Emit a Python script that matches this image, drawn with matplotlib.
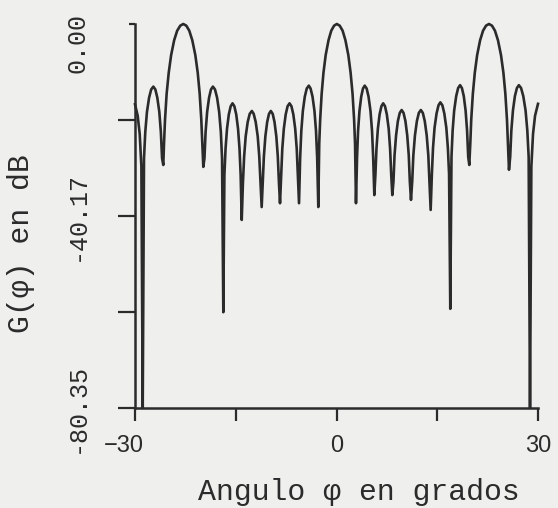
import matplotlib
matplotlib.use("Agg")
import matplotlib.pyplot as plt
from matplotlib.transforms import ScaledTranslation

# pattern, lobe by lobe (angle in degrees, gain in dB)
phi_deg = [
    -30.00, -29.60, -29.30, -29.05,
    -28.85,
    -28.66, -28.47, -28.22, -27.90, -27.59, -27.27, -26.97, -26.68, -26.38, -26.15, -25.97,
    -25.79,
    -25.68, -25.53, -25.29, -24.98, -24.62, -24.17, -23.72, -23.26, -22.81,
    -22.36, -21.92, -21.47, -21.02, -20.66, -20.37, -20.13, -19.98,
    -19.83,
    -19.66, -19.49, -19.26, -18.97, -18.69, -18.40, -18.09, -17.78, -17.47, -17.22, -17.04,
    -16.85,
    -16.69, -16.52, -16.30, -16.03, -15.75, -15.48, -15.21, -14.93, -14.66, -14.44, -14.27,
    -14.11,
    -13.93, -13.75, -13.52, -13.22, -12.92, -12.60, -12.33, -12.03, -11.73, -11.50, -11.32,
    -11.14,
    -10.98, -10.81, -10.59, -10.32, -10.05, -9.78, -9.50, -9.23, -8.96, -8.74, -8.57,
    -8.41,
    -8.24, -8.07, -7.84, -7.56, -7.28, -6.99, -6.71, -6.43, -6.15, -5.92, -5.75,
    -5.58,
    -5.41, -5.24, -5.01, -4.72, -4.43, -4.12, -3.86, -3.57, -3.28, -3.05, -2.88,
    -2.71,
    -2.57, -2.43, -2.21, -1.94, -1.61, -1.19, -0.78, -0.36, 0.05,
    0.48, 0.91, 1.33, 1.76, 2.10, 2.39, 2.62, 2.76,
    2.90,
    3.06, 3.21, 3.42, 3.68, 3.94, 4.20, 4.49, 4.77, 5.06, 5.29, 5.46,
    5.63,
    5.79, 5.95, 6.16, 6.42, 6.69, 6.95, 7.22, 7.49, 7.77, 7.98, 8.15,
    8.31,
    8.48, 8.64, 8.87, 9.14, 9.42, 9.70, 9.98, 10.26, 10.53, 10.76, 10.92,
    11.09,
    11.27, 11.44, 11.68, 11.97, 12.26, 12.56, 12.85, 13.14, 13.43, 13.67, 13.84,
    14.02,
    14.20, 14.37, 14.60, 14.90, 15.19, 15.46, 15.76, 16.05, 16.35, 16.58, 16.76,
    16.94,
    17.12, 17.29, 17.52, 17.82, 18.11, 18.40, 18.67, 18.95, 19.22, 19.44, 19.61,
    19.77,
    19.92, 20.06, 20.30, 20.59, 20.94, 21.38, 21.82, 22.26, 22.70,
    23.15, 23.59, 24.04, 24.49, 24.85, 25.14, 25.38, 25.53,
    25.68,
    25.86, 26.03, 26.27, 26.56, 26.86, 27.15, 27.48, 27.81, 28.15, 28.41, 28.61,
    28.81,
    29.01, 29.26, 29.56, 30.00,
]
g_db = [
    -16.8, -19.2, -23.0, -29.8,
    -80.35,
    -28.1, -22.6, -18.4, -15.4, -13.7, -13.1, -13.7, -15.4, -18.4, -22.6, -28.1,
    -29.5,
    -25.0, -20.0, -14.6, -10.2, -6.5, -3.4, -1.4, -0.35, 0.0,
    -0.35, -1.4, -3.4, -6.5, -10.2, -14.6, -20.0, -25.0,
    -29.9,
    -28.1, -22.6, -18.4, -15.4, -13.7, -13.1, -13.7, -15.4, -18.4, -22.6, -28.1,
    -60.3,
    -31.6, -26.1, -21.9, -18.9, -17.2, -16.6, -17.2, -18.9, -21.9, -26.1, -31.6,
    -41.0,
    -33.2, -27.7, -23.5, -20.5, -18.8, -18.2, -18.8, -20.5, -23.5, -27.7, -33.2,
    -38.3,
    -33.2, -27.7, -23.5, -20.5, -18.8, -18.2, -18.8, -20.5, -23.5, -27.7, -33.2,
    -37.5,
    -31.6, -26.1, -21.9, -18.9, -17.2, -16.6, -17.2, -18.9, -21.9, -26.1, -31.6,
    -37.5,
    -27.9, -22.4, -18.2, -15.2, -13.5, -12.9, -13.5, -15.2, -18.2, -22.4, -27.9,
    -38.3,
    -25.0, -20.0, -14.6, -10.2, -6.5, -3.4, -1.4, -0.35, 0.0,
    -0.35, -1.4, -3.4, -6.5, -10.2, -14.6, -20.0, -25.0,
    -37.5,
    -27.9, -22.4, -18.2, -15.2, -13.5, -12.9, -13.5, -15.2, -18.2, -22.4, -27.9,
    -35.8,
    -31.6, -26.1, -21.9, -18.9, -17.2, -16.6, -17.2, -18.9, -21.9, -26.1, -31.6,
    -35.8,
    -33.0, -27.5, -23.3, -20.3, -18.6, -18.0, -18.6, -20.3, -23.3, -27.5, -33.0,
    -36.8,
    -33.0, -27.5, -23.3, -20.3, -18.6, -18.0, -18.6, -20.3, -23.3, -27.5, -33.0,
    -38.9,
    -31.4, -25.9, -21.7, -18.7, -17.0, -16.4, -17.0, -18.7, -21.7, -25.9, -31.4,
    -59.6,
    -27.8, -22.3, -18.1, -15.1, -13.4, -12.8, -13.4, -15.1, -18.1, -22.3, -27.8,
    -29.5,
    -25.0, -20.0, -14.6, -10.2, -6.5, -3.4, -1.4, -0.35, 0.0,
    -0.35, -1.4, -3.4, -6.5, -10.2, -14.6, -20.0, -25.0,
    -30.5,
    -27.8, -22.3, -18.1, -15.1, -13.4, -12.8, -13.4, -15.1, -18.1, -22.3, -27.8,
    -80.35,
    -29.8, -23.0, -19.2, -16.7,
]
assert len(phi_deg) == len(g_db)

xticks = [-30, -15, 0, 15, 30]
xticklabels = ["\u221230", "", "0", "", "30"]
yticks = [0.0, -20.09, -40.17, -60.26, -80.35]
ylabel_vals = [0.0, -40.17, -80.35]
ylabel_text = ["0.00", "-40.17", "-80.35"]

INK = "#2b2b2b"
PAPER = "#efefed"
MONO = ["Liberation Mono", "DejaVu Sans Mono"]

fig = plt.figure(figsize=(5.58, 5.08), dpi=100, facecolor=PAPER)
ax = fig.add_axes([135/558, 1-408/508, 403/558, 384/508])
ax.set_facecolor(PAPER)

ax.plot(phi_deg, g_db, color=INK, lw=1.9, clip_on=False, solid_joinstyle="round")

ax.set_xlim(-30, 30)
ax.set_ylim(-80.35, 0)
for s in ("top", "right"):
    ax.spines[s].set_visible(False)
for s in ("left", "bottom"):
    ax.spines[s].set_color(INK)
    ax.spines[s].set_linewidth(1.8)

ax.set_xticks(xticks)
ax.set_xticklabels(xticklabels, fontfamily="Liberation Sans", fontsize=17, color=INK)
ax.tick_params(axis="x", direction="out", length=9.5, width=1.6, color=INK, pad=10)
ax.xaxis.get_majorticklabels()[0].set_transform(
    ax.xaxis.get_majorticklabels()[0].get_transform()
    + ScaledTranslation(-11/100, 0, fig.dpi_scale_trans))

ax.set_yticks(yticks)
ax.tick_params(axis="y", direction="out", length=12.5, width=1.6, color=INK, labelleft=False)
ax.yaxis.get_major_ticks()[0].tick1line.set_markersize(4)

# rotated typewriter labels on the gain axis
ytr = ax.get_yaxis_transform() + ScaledTranslation(-58/100, 0, fig.dpi_scale_trans)
for v, lab in zip(ylabel_vals, ylabel_text):
    if v == 0.0:
        ax.text(0, v, lab, transform=ytr + ScaledTranslation(0, 11/100, fig.dpi_scale_trans),
                rotation=90, ha="center", va="top", fontfamily=MONO, fontsize=18, color=INK)
    else:
        ax.text(0, v, lab, transform=ytr, rotation=90, ha="center", va="center",
                fontfamily=MONO, fontsize=18, color=INK)

fig.text(359/558, 1-500/508, "Angulo \u03c6 en grados", ha="center", va="baseline",
         fontfamily=MONO, fontsize=21.5, color=INK)
fig.text(21/558, 1-244/508, "G(\u03c6) en dB", ha="center", va="center", rotation=90,
         fontfamily=MONO, fontsize=21.5, color=INK)

fig.savefig("out.png", dpi=100, facecolor=PAPER)
